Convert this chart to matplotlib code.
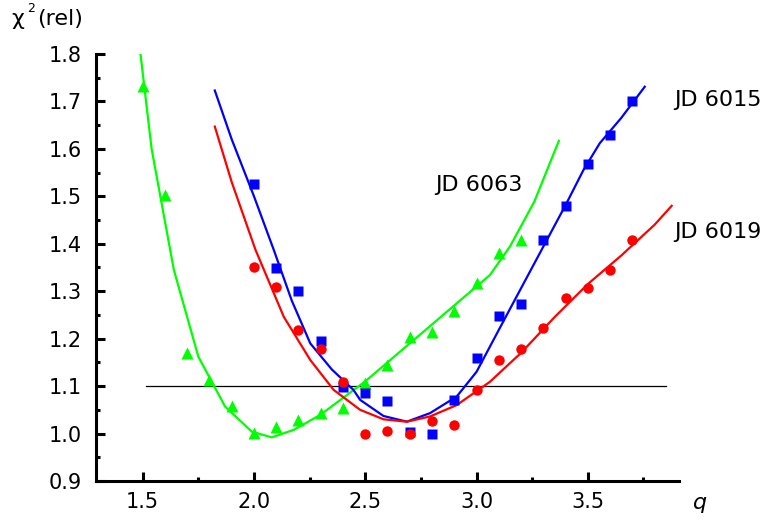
import numpy as np
import matplotlib.pyplot as plt

plt.rcParams['font.family'] = ['DejaVu Sans']

# measured points (q, chi^2 rel)
q_6063 = [1.5, 1.6, 1.7, 1.8, 1.9, 2.0, 2.1, 2.2, 2.3, 2.4, 2.5, 2.6, 2.7, 2.8, 2.9, 3.0, 3.1, 3.2]
chi_6063 = [1.733, 1.503, 1.170, 1.113, 1.059, 1.002, 1.014, 1.029, 1.044, 1.053, 1.106, 1.145,
            1.203, 1.215, 1.259, 1.317, 1.381, 1.408]

q_6015 = [2.0, 2.1, 2.2, 2.3, 2.4, 2.5, 2.6, 2.7, 2.8, 2.9, 3.0, 3.1, 3.2, 3.3, 3.4, 3.5, 3.6, 3.7]
chi_6015 = [1.526, 1.348, 1.300, 1.195, 1.098, 1.086, 1.069, 1.004, 1.000, 1.071, 1.160, 1.248,
            1.273, 1.407, 1.480, 1.568, 1.630, 1.700]

q_6019 = [2.0, 2.1, 2.2, 2.3, 2.4, 2.5, 2.6, 2.7, 2.8, 2.9, 3.0, 3.1, 3.2, 3.3, 3.4, 3.5, 3.6, 3.7]
chi_6019 = [1.350, 1.308, 1.218, 1.178, 1.109, 1.000, 1.006, 0.999, 1.027, 1.018, 1.092, 1.154,
            1.178, 1.223, 1.285, 1.307, 1.345, 1.408]

# fitted curves
fq_6063 = [1.49, 1.54, 1.64, 1.75, 1.87, 1.99, 2.08, 2.18, 2.3, 2.4, 2.5, 2.6, 2.7, 2.8, 2.9,
           3.0, 3.06, 3.15, 3.26, 3.37]
fchi_6063 = [1.80, 1.60, 1.345, 1.162, 1.057, 1.004, 0.992, 1.008, 1.04, 1.075, 1.11, 1.15,
             1.19, 1.23, 1.27, 1.31, 1.334, 1.394, 1.489, 1.617]

fq_6015 = [1.824, 1.9, 2.0, 2.089, 2.17, 2.253, 2.35, 2.447, 2.477, 2.582, 2.687, 2.791, 2.911,
           3.0, 3.06, 3.128, 3.25, 3.404, 3.48, 3.554, 3.65, 3.756]
fchi_6015 = [1.723, 1.62, 1.50, 1.387, 1.28, 1.19, 1.135, 1.092, 1.071, 1.037, 1.025, 1.043,
             1.078, 1.13, 1.183, 1.243, 1.35, 1.485, 1.555, 1.612, 1.665, 1.731]

fq_6019 = [1.824, 1.9, 2.007, 2.134, 2.253, 2.358, 2.477, 2.582, 2.687, 2.791, 2.911, 3.06,
           3.2, 3.35, 3.5, 3.65, 3.8, 3.877]
fchi_6019 = [1.647, 1.53, 1.387, 1.246, 1.155, 1.092, 1.05, 1.03, 1.025, 1.036, 1.06, 1.109,
             1.17, 1.245, 1.315, 1.375, 1.44, 1.48]

green, blue, red = '#00ff00', '#0000ff', '#ff0000'

fig = plt.figure(figsize=(7.69, 5.21), dpi=100)
ax = fig.add_axes([0.1248, 0.0768, 0.7582, 0.8196])

ax.plot([1.513, 3.85], [1.1, 1.1], color='black', lw=0.9)

ax.plot(fq_6063, fchi_6063, color=green, lw=1.6)
ax.plot(fq_6015, fchi_6015, color=blue, lw=1.6)
ax.plot(fq_6019, fchi_6019, color=red, lw=1.6)

ax.plot(q_6063, chi_6063, '^', color=green, ms=8, mec='none')
ax.plot(q_6015, chi_6015, 's', color=blue, ms=6.5, mec='none')
ax.plot(q_6019, chi_6019, 'o', color=red, ms=7.5, mec='none')

ax.set_xlim(1.29, 3.91)
ax.set_ylim(0.9, 1.8)
ax.set_xticks([1.5, 2.0, 2.5, 3.0, 3.5])
ax.set_xticks([1.75, 2.25, 2.75, 3.25, 3.75], minor=True)
ax.set_yticks(np.arange(0.9, 1.81, 0.1))
ax.set_yticks(np.arange(0.95, 1.8, 0.1), minor=True)
ax.set_xticklabels(['1.5', '2.0', '2.5', '3.0', '3.5'])
ax.set_yticklabels(['%.1f' % v for v in np.arange(0.9, 1.81, 0.1)])

for s in ['top', 'right']:
    ax.spines[s].set_visible(False)
for s in ['left', 'bottom']:
    ax.spines[s].set_linewidth(2.2)
ax.tick_params(which='major', direction='in', length=6.5, width=2.2, labelsize=15)
ax.tick_params(axis='y', which='major', pad=10)
ax.tick_params(axis='x', which='major', pad=8)
ax.tick_params(which='minor', direction='in', length=3, width=2.2)

ax.text(3.89, 1.703, 'JD 6015', fontsize=16, va='center', ha='left')
ax.text(2.814, 1.524, 'JD 6063', fontsize=16, va='center', ha='left')
ax.text(3.89, 1.425, 'JD 6019', fontsize=16, va='center', ha='left')

fig.text(11 / 769, 1 - 19 / 521, 'χ', fontsize=16, va='center', ha='left')
fig.text(27 / 769, 1 - 8 / 521, '2', fontsize=9, va='center', ha='left')
fig.text(37 / 769, 1 - 19 / 521, '(rel)', fontsize=16, va='center', ha='left')
fig.text(700 / 769, 1 - 503 / 521, 'q', fontsize=16, style='italic', va='center', ha='center')

fig.savefig('out.png', dpi=100)
